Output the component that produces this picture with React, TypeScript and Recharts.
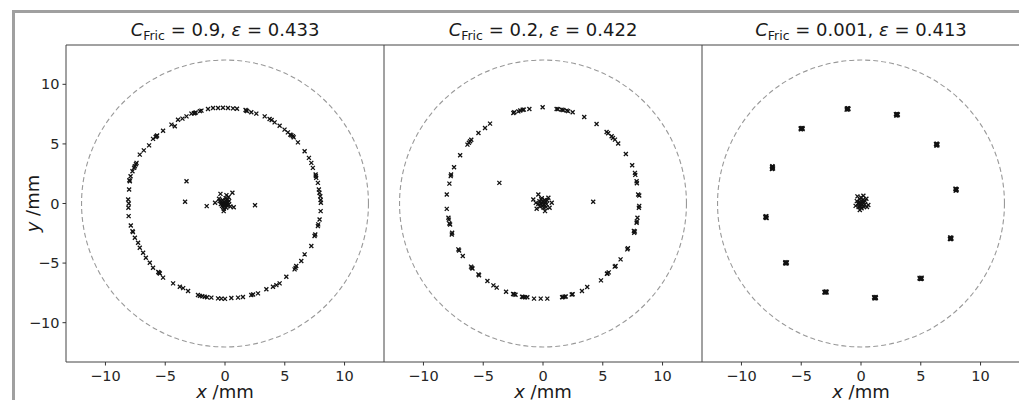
import React from 'react'
import { ScatterChart, Scatter, XAxis, YAxis, ReferenceArea } from 'recharts'

const FONT = '"DejaVu Sans", sans-serif'
const DOMAIN: [number, number] = [-13.3, 13.3]
const TICKS = [-10, -5, 0, 5, 10]
const WALL_RADIUS = 12

const C_FRIC = ['0.9', '0.2', '0.001']
const EPSILON = ['0.433', '0.422', '0.413']

// C_Fric = 0.9 : particles spread along the ring
const RING_09: [number, number][] = [
  [-1.0, 8.01], [-0.58, 8.01], [-0.17, 8.03], [0.25, 8.01], [0.67, 7.98], [1.0, 7.95], [1.72, 7.85], [1.79, 7.79],
  [1.85, 7.75], [2.2, 7.65], [2.62, 7.54], [-1.42, 7.93], [-1.97, 7.79], [-2.1, 7.75], [-2.45, 7.63], [-2.53, 7.6],
  [-2.6, 7.58], [-2.81, 7.54], [-3.22, 7.31], [-3.56, 7.12], [-3.93, 7.03], [-4.48, 6.62], [-4.2, 6.48], [-5.18, 6.11],
  [-5.68, 5.7], [-5.73, 5.64], [-5.8, 5.58], [-6.02, 5.42], [-6.35, 4.88], [-6.79, 4.46], [-7.13, 4.1], [-7.4, 3.41],
  [-7.45, 3.3], [-7.54, 3.13], [-7.6, 3.0], [-7.74, 2.71], [-7.9, 2.29], [-7.96, 1.87], [-8.0, 1.95], [-8.02, 1.17],
  [3.32, 7.31], [3.73, 7.09], [3.9, 7.0], [4.15, 6.81], [4.57, 6.53], [4.98, 6.2], [5.26, 5.97], [5.46, 5.78],
  [5.55, 5.72], [5.68, 5.64], [5.75, 5.55], [6.1, 5.13], [6.66, 4.38], [7.02, 3.83], [7.22, 3.41], [7.35, 2.99],
  [7.58, 2.43], [7.6, 2.3], [7.63, 2.15], [7.77, 1.73], [7.85, 1.17], [7.9, 0.9], [7.97, 0.61], [8.0, 0.3], [8.02, 0.06],
  [-8.1, 0.34], [-8.05, 0.0], [-8.08, -0.36], [-8.06, -1.06], [-7.88, -1.84], [-7.74, -2.32], [-7.7, -2.4], [-7.54, -2.88],
  [-7.27, -3.29], [-7.13, -3.71], [-6.85, -4.13], [-6.62, -4.55], [-6.29, -4.97], [-6.02, -5.39], [-5.58, -5.75], [-5.51, -5.81],
  [-5.45, -5.87], [-5.18, -6.22], [-4.34, -6.7], [-3.78, -6.98], [-3.5, -7.1], [-3.09, -7.34], [-2.26, -7.68], [-2.1, -7.75],
  [-1.9, -7.78], [-1.7, -7.82], [-1.5, -7.86], [-1.14, -7.9], [-0.58, -7.96], [-0.3, -7.98], [0.0, -8.0], [0.53, -7.93],
  [1.09, -7.9], [1.5, -7.85], [2.2, -7.68], [2.35, -7.64], [2.76, -7.54], [3.46, -7.2], [4.01, -6.98], [4.3, -6.85],
  [4.57, -6.7], [5.13, -6.14], [5.82, -5.53], [5.9, -5.4], [5.96, -5.25], [6.38, -4.83], [6.66, -4.27], [7.22, -3.57],
  [7.49, -2.73], [7.55, -2.6], [7.77, -1.9], [7.8, -1.75], [7.91, -1.34], [8.0, -0.64],
  [-3.22, 1.87], [-3.34, 0.14], [-1.53, -0.22], [2.51, -0.14],
]

const CORE_09: [number, number][] = [
  [0, 0], [0.1, 0.05], [-0.1, 0.1], [-0.2, -0.05], [0.15, -0.15], [-0.05, -0.2], [0.25, 0.1], [-0.3, 0.15],
  [0.05, 0.25], [-0.15, -0.3], [0.3, -0.1], [-0.25, -0.2], [0.2, 0.3], [-0.35, -0.05], [0.1, -0.35], [0.35, 0.2],
  [-0.2, 0.3], [0.0, -0.1], [0.45, -0.25], [-0.45, 0.2], [0.05, 0.45], [-0.1, -0.45], [-0.38, 0.81], [0.12, 0.7],
  [0.62, 0.9], [-0.83, 0.06], [0.73, -0.31], [-0.11, -0.64], [0.3, 0.55], [-0.5, 0.4],
]

// C_Fric = 0.2
const RING_02: [number, number][] = [
  [-2.48, 7.6], [-2.4, 7.65], [-2.06, 7.73], [-1.9, 7.8], [-1.7, 7.87], [-1.6, 7.88], [-1.14, 7.93], [-0.03, 8.07],
  [1.14, 7.93], [1.25, 7.92], [1.56, 7.87], [1.7, 7.85], [1.98, 7.79], [2.1, 7.75], [2.48, 7.65], [3.45, 7.26],
  [4.48, 6.67], [5.32, 6.0], [5.45, 5.9], [5.74, 5.64], [5.85, 5.5], [6.02, 5.36], [6.29, 5.03], [6.93, 4.16],
  [7.46, 3.21], [7.69, 2.57], [7.72, 2.4], [7.83, 1.87], [7.85, 1.7], [8.05, 0.67], [7.96, 0.75],
  [-4.43, 6.7], [-4.85, 6.34], [-5.4, 5.92], [-6.0, 5.35], [-6.1, 5.22], [-6.2, 5.1], [-6.32, 4.94], [-6.93, 4.05],
  [-7.44, 3.04], [-7.69, 2.43], [-7.72, 2.3], [-7.83, 1.67], [-8.05, 0.75],
  [-8.05, -0.45], [-7.91, -1.2], [-7.88, -1.35], [-7.83, -1.68], [-7.77, -1.76], [-7.63, -2.6], [-7.6, -2.45], [-7.08, -3.85],
  [-7.02, -3.95], [-6.71, -4.41], [-6.02, -5.3], [-5.96, -5.39], [-5.9, -5.45], [-5.4, -5.95], [-5.35, -6.02], [-4.65, -6.51],
  [-4.15, -6.87], [-3.87, -7.06], [-3.09, -7.4], [-2.5, -7.6], [-2.42, -7.62], [-2.3, -7.65], [-1.75, -7.83], [-1.65, -7.85],
  [-1.5, -7.86], [-1.31, -7.87], [-0.75, -7.98], [-0.19, -7.98], [0.36, -7.98], [1.6, -7.86], [1.65, -7.85], [1.8, -7.82],
  [1.9, -7.8], [2.4, -7.64], [2.48, -7.62], [3.26, -7.34], [3.7, -7.01], [4.85, -6.45], [5.35, -5.9], [5.4, -5.86],
  [5.5, -5.78], [6.0, -5.3], [6.07, -5.25], [6.49, -4.69], [7.05, -3.85], [7.1, -3.75], [7.6, -2.3], [7.68, -2.35],
  [7.63, -2.46], [7.83, -1.62], [7.85, -1.5], [7.9, -1.2], [8.02, -0.36], [8.05, -0.2],
  [-3.65, 1.73], [4.2, 0.14],
]

const CORE_02: [number, number][] = [
  [-0.1, 0.05], [0.0, 0.1], [-0.2, 0.0], [0.1, -0.1], [-0.05, -0.2], [0.2, 0.15], [-0.3, 0.2], [0.15, 0.3],
  [-0.25, -0.25], [0.3, -0.05], [-0.15, 0.35], [0.05, -0.35], [0.35, 0.25], [-0.4, -0.05], [0.25, -0.3], [-0.1, 0.45],
  [-0.81, 0.34], [-0.53, -0.44], [0.73, 0.06], [0.45, 0.48], [0.17, -0.64], [-0.39, 0.75], [0.55, -0.35], [-0.6, 0.05],
]

// C_Fric = 0.001 : particles locked into twelve clumps
const CLUMPS_0001: [number, number][] = [
  [-1.14, 7.93], [-1.05, 7.95], [-1.2, 7.88], [-1.1, 7.99], [-1.18, 7.97], [-1.08, 7.9],
  [2.98, 7.45], [3.05, 7.4], [2.92, 7.5], [3.02, 7.52], [2.95, 7.38], [3.08, 7.47],
  [-4.95, 6.28], [-5.02, 6.22], [-4.9, 6.34], [-5.0, 6.32], [-4.88, 6.24], [-5.05, 6.3],
  [6.32, 4.94], [6.38, 4.88], [6.27, 5.0], [6.35, 5.02], [6.3, 4.86], [6.4, 4.96],
  [-7.41, 2.99], [-7.45, 2.9], [-7.38, 3.08], [-7.44, 3.04], [-7.36, 2.94], [-7.42, 3.12],
  [7.94, 1.17], [7.98, 1.1], [7.9, 1.24], [7.96, 1.22], [7.92, 1.08], [8.0, 1.18],
  [-7.94, -1.15], [-7.98, -1.08], [-7.9, -1.22], [-7.96, -1.2], [-7.92, -1.06], [-8.0, -1.14],
  [7.49, -2.93], [7.55, -2.88], [7.44, -2.98], [7.52, -2.99], [7.46, -2.86], [7.56, -2.95],
  [-6.27, -4.97], [-6.32, -4.92], [-6.22, -5.02], [-6.3, -5.03], [-6.2, -4.94], [-6.34, -4.99],
  [4.99, -6.28], [5.06, -6.22], [4.92, -6.32], [5.02, -6.34], [4.9, -6.24], [5.08, -6.3],
  [-2.95, -7.43], [-3.04, -7.4], [-2.87, -7.46], [-2.98, -7.48], [-3.06, -7.46], [-2.9, -7.38],
  [1.17, -7.9], [1.22, -7.84], [1.12, -7.95], [1.2, -7.96], [1.1, -7.86], [1.25, -7.92],
]

const CORE_0001: [number, number][] = [
  [-0.08, -0.08], [0.0, 0.05], [-0.15, 0.1], [0.1, -0.1], [-0.05, -0.25], [0.2, 0.15], [-0.25, 0.0], [0.15, 0.3],
  [-0.2, -0.3], [0.3, -0.1], [-0.1, 0.35], [0.05, -0.4], [0.35, 0.2], [-0.35, 0.2], [0.25, -0.3], [0.0, 0.5],
  [-0.3, 0.6], [0.2, 0.65], [0.61, -0.12], [0.5, -0.3], [-0.45, -0.2], [-0.1, -0.55], [0.45, 0.4],
]

const PANEL_POINTS = [
  [...RING_09, ...CORE_09],
  [...RING_02, ...CORE_02],
  [...CLUMPS_0001, ...CORE_0001],
]
const PANEL_LEFT = [66, 384, 702]
const PLOT_W = 318
const PLOT_TOP = 45
const X_AXIS_H = 38
const PX_PER_UNIT = PLOT_W / (DOMAIN[1] - DOMAIN[0])

const fmt = (v: number) => (v < 0 ? `\u2212${-v}` : `${v}`)

const Cross = (props: any) => {
  const { cx, cy } = props
  if (cx == null || cy == null) return null
  const s = 2
  return (
    <path
      d={`M${cx - s},${cy - s}L${cx + s},${cy + s}M${cx - s},${cy + s}L${cx + s},${cy - s}`}
      stroke="#111"
      strokeWidth={1.3}
      fill="none"
    />
  )
}

const Wall = (props: any) => {
  const { cx, cy } = props
  return (
    <circle cx={cx} cy={cy} r={WALL_RADIUS * PX_PER_UNIT} fill="none" stroke="#999" strokeWidth={1.1} strokeDasharray="5 3" />
  )
}

function Panel({ idx }: { idx: number }) {
  const showY = idx === 0
  const yW = showY ? 66 : 0
  const data = PANEL_POINTS[idx].map(([x, y]) => ({ x, y }))
  const title = (p: any) => {
    const vb = p.viewBox
    return (
      <text x={vb.x + vb.width / 2} y={36} textAnchor="middle" fontSize={18} fontFamily={FONT} fill="#1a1a1a">
        <tspan fontStyle="italic">C</tspan>
        <tspan fontSize={12.5} dy={4}>Fric</tspan>
        <tspan dy={-4}>{` = ${C_FRIC[idx]}, `}</tspan>
        <tspan fontStyle="italic">ε</tspan>
        <tspan>{` = ${EPSILON[idx]}`}</tspan>
      </text>
    )
  }
  const xLabel = (p: any) => {
    const vb = p.viewBox
    return (
      <text x={vb.x + vb.width / 2} y={vb.y + 36} textAnchor="middle" fontSize={18} fontFamily={FONT} fill="#1a1a1a">
        <tspan fontStyle="italic">x</tspan>
        <tspan>{' /mm'}</tspan>
      </text>
    )
  }
  const yLabel = (p: any) => {
    const vb = p.viewBox
    const cx = 39
    const cy = vb.y + vb.height / 2
    return (
      <text x={cx} y={cy} textAnchor="middle" fontSize={18} fontFamily={FONT} fill="#1a1a1a" transform={`rotate(-90, ${cx}, ${cy})`}>
        <tspan fontStyle="italic">y</tspan>
        <tspan>{' /mm'}</tspan>
      </text>
    )
  }
  return (
    <div style={{ position: 'absolute', left: PANEL_LEFT[idx] - yW, top: 0 }}>
      <ScatterChart width={yW + PLOT_W} height={400} margin={{ top: PLOT_TOP, right: 0, bottom: 0, left: 0 }}>
        <XAxis
          type="number"
          dataKey="x"
          domain={DOMAIN}
          ticks={TICKS}
          allowDataOverflow
          height={X_AXIS_H}
          axisLine={false}
          tickSize={3.5}
          tickMargin={5}
          tickLine={{ stroke: '#333' }}
          tick={{ fill: '#262626', fontSize: 14.5, fontFamily: FONT }}
          tickFormatter={fmt}
          label={xLabel}
        />
        <YAxis
          type="number"
          dataKey="y"
          domain={DOMAIN}
          ticks={TICKS}
          allowDataOverflow
          hide={!showY}
          width={66}
          axisLine={false}
          tickSize={3.5}
          tickMargin={3}
          tickLine={{ stroke: '#333' }}
          tick={{ fill: '#262626', fontSize: 14.5, fontFamily: FONT }}
          tickFormatter={fmt}
          label={yLabel}
        />
        <ReferenceArea x1={DOMAIN[0]} x2={DOMAIN[1]} y1={DOMAIN[0]} y2={DOMAIN[1]} fill="none" stroke="#444" strokeWidth={1} label={title} />
        <Scatter data={[{ x: 0, y: 0 }]} shape={Wall} isAnimationActive={false} />
        <Scatter data={data} shape={Cross} isAnimationActive={false} />
      </ScatterChart>
    </div>
  )
}

export default function App() {
  return (
    <div style={{ position: 'absolute', left: 0, top: 0, width: 1019, height: 400, overflow: 'hidden', background: '#fff' }}>
      {[0, 1, 2].map((i) => (
        <Panel key={i} idx={i} />
      ))}
      <div
        style={{
          position: 'absolute',
          left: 12,
          top: 10,
          width: 1100,
          height: 500,
          borderLeft: '3px solid #a0a0a0',
          borderTop: '3px solid #a0a0a0',
          pointerEvents: 'none',
        }}
      />
    </div>
  )
}
